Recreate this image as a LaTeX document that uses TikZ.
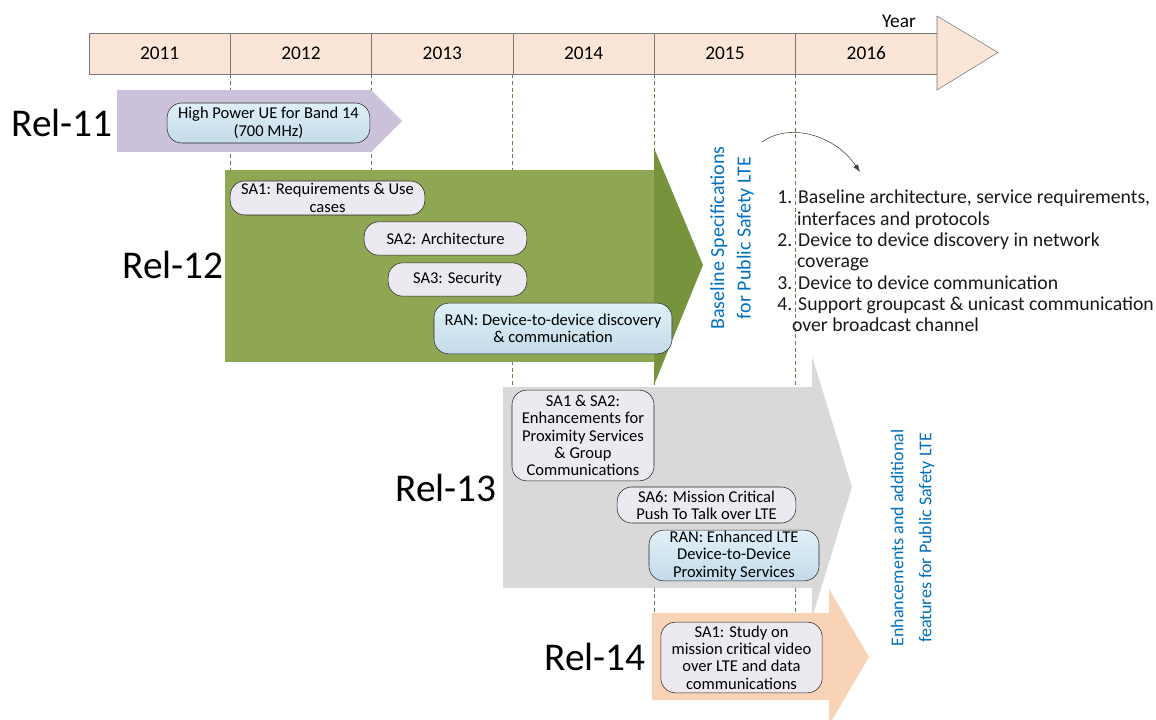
\documentclass[tikz,border=0pt]{standalone}
\usepackage{fontspec}
\setmainfont{Carlito}
\usetikzlibrary{arrows.meta,positioning}
\definecolor{yearfill}{RGB}{251,229,214}
\definecolor{yearline}{RGB}{120,120,120}
\definecolor{relA}{RGB}{204,193,218}
\definecolor{relB}{RGB}{143,166,83}
\definecolor{relBhead}{RGB}{119,147,60}
\definecolor{relC}{RGB}{217,217,217}
\definecolor{relD}{RGB}{249,211,181}
\definecolor{itemfill}{RGB}{236,233,241}
\definecolor{ranTop}{RGB}{224,240,247}
\definecolor{ranBot}{RGB}{196,219,234}
\definecolor{specblue}{RGB}{0,112,192}
\definecolor{gridgreen}{RGB}{105,125,70}

\begin{document}
\begin{tikzpicture}[x=0.75pt,y=-0.75pt,
    yearcell/.style={draw=yearline,fill=yearfill,minimum width=106pt,minimum height=30.75pt,
                     inner sep=0pt,font=\fontsize{14.5}{16}\selectfont},
    relname/.style={font=\fontsize{29.5}{31}\selectfont},
    item/.style={draw=black!85,fill=itemfill,rounded corners=11pt,align=center,inner sep=0pt,
                 font=\fontsize{12.4}{13}\selectfont},
    ranitem/.style={item,top color=ranTop,bottom color=ranBot},
    spec/.style={rotate=90,align=center,text=specblue},
    gridline/.style={draw=gridgreen,densely dashed,line width=0.5pt}]
      \useasboundingbox (0,0) rectangle (1156,720);

      \foreach \yr [count=\i] in {2011,...,2016}
        \node[yearcell] (y\yr) at (89+141.33*\i-70.67,53.5) {\yr};
      \draw[draw=yearline,fill=yearfill] (937,16) -- (998,52.5) -- (937,90) -- cycle;
      \node[font=\fontsize{14.5}{16}\selectfont] (yearlbl) at (899,21) {Year};
      \foreach \yr/\yend in {2012/362,2013/362,2014/388,2015/612,2016/612}
        \draw[gridline] (y\yr.south west) -- ++(0,\yend-74);

      \fill[relA] (117,90) -- (371,90) -- (402,121) -- (371,152) -- (117,152) -- cycle;
      \fill[relB] (225,170) -- (655,170) -- (655,362) -- (225,362) -- cycle;
      \fill[relBhead] (654,148) -- (703,265) -- (654,385) -- cycle;
      \fill[relC] (503,387) -- (812,387) -- (812,356) -- (852,487) -- (812,618)
            -- (812,588) -- (503,588) -- cycle;
      \fill[relD] (652,613) -- (829,613) -- (829,589) -- (869,657) -- (832,720)
            -- (829,720) -- (829,700) -- (652,700) -- cycle;

      \node[relname] (rel11) at (62,123) {Rel-11};
      \node[relname] (rel12) at (173,265) {Rel-12};
      \node[relname] (rel13) at (446,488) {Rel-13};
      \node[relname] (rel14) at (595,657) {Rel-14};

      \node[ranitem,minimum width=152pt,minimum height=30pt] (hpue) at (268.5,123)
           {High Power UE for Band 14\\(700 MHz)};
      \node[item,minimum width=146pt,minimum height=25.5pt] (sa1req) at (327.5,198)
           {SA1: Requirements \& Use\\cases};
      \node[item,minimum width=122pt,minimum height=25pt] (sa2arch) at (445.5,238.5)
           {SA2: Architecture};
      \node[item,minimum width=104pt,minimum height=25pt] (sa3sec) at (457.5,279.5)
           {SA3: Security};
      \node[ranitem,minimum width=178.5pt,minimum height=38pt] (rand2d) at (553,328.5)
           {RAN: Device-to-device discovery\\\& communication};
      \node[item,minimum width=106.5pt,minimum height=68pt] (saprose) at (583,435.5)
           {SA1 \& SA2:\\Enhancements for\\Proximity Services\\\& Group\\Communications};
      \node[item,minimum width=134pt,minimum height=27pt] (sa6ptt) at (706.5,505)
           {SA6: Mission Critical\\Push To Talk over LTE};
      \node[ranitem,minimum width=127.5pt,minimum height=38pt] (ranprose) at (734,555.5)
           {RAN: Enhanced LTE\\Device-to-Device\\Proximity Services};
      \node[item,minimum width=121pt,minimum height=53pt] (sa1video) at (741.5,657.5)
           {SA1: Study on\\mission critical video\\over LTE and data\\communications};

      \node[spec,font=\fontsize{15}{20}\selectfont] (basespec) at (732,238)
           {Baseline Specifications\\for Public Safety LTE};
      \node[spec,font=\fontsize{13.5}{21}\selectfont] (enhspec) at (912.5,538)
           {Enhancements and additional\\features for Public Safety LTE};

      \node[anchor=north west,align=left,inner sep=0pt,text=black!90,
            font=\fontsize{14.8}{16}\selectfont] (baselist) at (777,190)
           {1. Baseline architecture, service requirements,\\
            \hspace*{1em}interfaces and protocols\\
            2. Device to device discovery in network\\
            \hspace*{1em}coverage\\
            3. Device to device communication\\
            4. Support groupcast \& unicast communication\\
            \hspace*{0.75em}over broadcast channel};

      \coordinate (curlA) at (762,142);
      \coordinate (curlB) at (860,172);
      \draw[-{Latex[length=2mm,width=1.4mm]},black!75] (curlA)
           .. controls (790,122) and (835,135) .. (curlB);
    \end{tikzpicture}
\end{document}
